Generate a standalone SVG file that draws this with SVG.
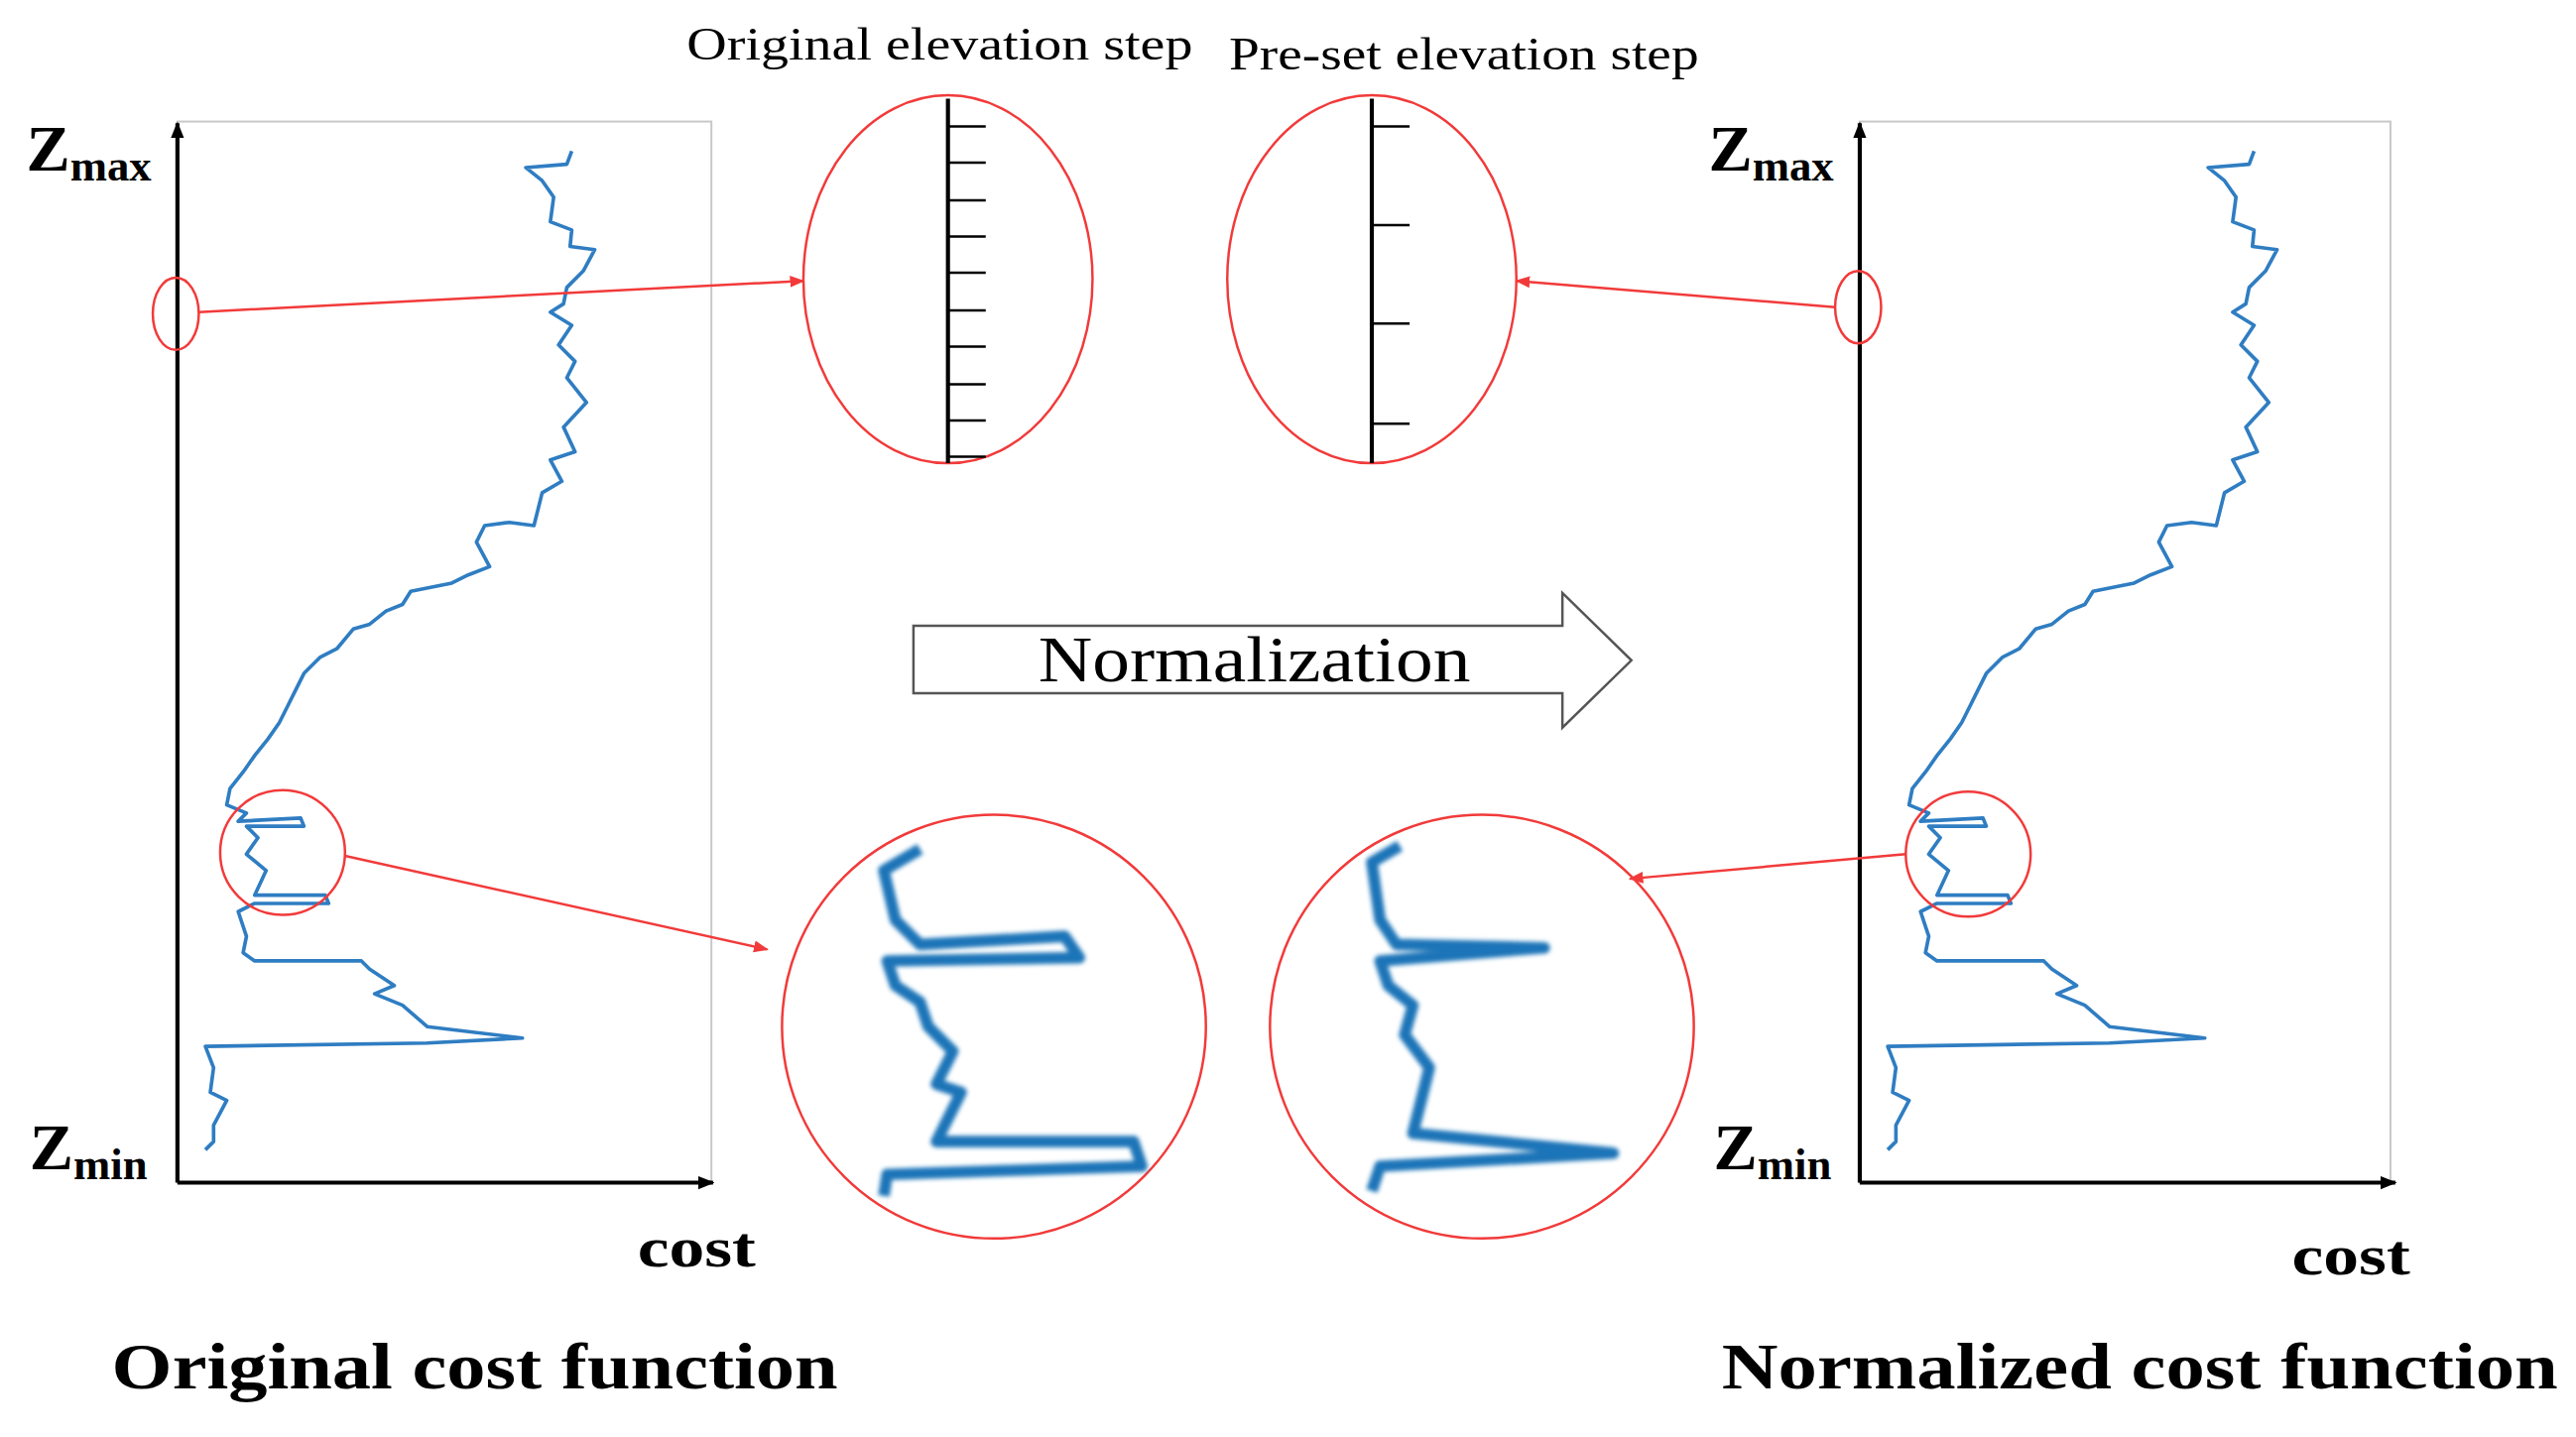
<svg xmlns="http://www.w3.org/2000/svg" width="2597" height="1449" viewBox="0 0 2597 1449">
<style>
.ax{stroke:#000;stroke-width:2.5;fill:none}
.box{stroke:#c8c8c8;stroke-width:1.2;fill:none}
.red{stroke:#f23a3a;stroke-width:1.5;fill:none}
.curve{stroke:#2f7dc2;stroke-width:2.2;fill:none;stroke-linejoin:round}
.zc{stroke:#1f74b8;stroke-width:7;fill:none;stroke-linejoin:round;filter:url(#blur)}
.tick{stroke:#000;stroke-width:1.5}
.lab{font-family:"Liberation Serif",serif;font-weight:bold;fill:#000}
.sm{font-family:"Liberation Serif",serif;fill:#000;font-size:28px}
</style>
<defs>
<marker id="ah" viewBox="0 0 10 10" refX="9" refY="5" markerWidth="6" markerHeight="6" orient="auto"><path d="M0,1 L10,5 L0,9 z" fill="#f23a3a"/></marker>
<marker id="bk" viewBox="0 0 10 10" refX="9" refY="5" markerWidth="4" markerHeight="4" orient="auto"><path d="M0,1 L10,5 L0,9 z" fill="#000"/></marker>
<filter id="blur"><feGaussianBlur stdDeviation="1.2"/></filter>
<polyline id="cv" class="curve" points="348,92 345,100 320,102 330,110 337,120 335,135 348,140 347,150 362,152 355,165 345,175 343,185 335,190 348,198 340,210 350,220 345,230 357,245 343,260 350,275 335,280 342,293 330,300 325,320 310,318 295,320 290,330 298,345 285,350 275,355 250,360 245,368 235,372 225,380 215,383 205,395 195,400 185,410 180,420 175,430 170,440 163,450 155,460 148,470 140,480 138,490 150,495 145,500 183,498 185,503 150,503 157,510 150,520 162,530 155,545 198,545 200,550 155,550 145,555 150,570 148,580 155,585 220,585 225,590 240,600 228,605 245,612 260,625 318,632 260,635 125,637 130,650 128,665 138,670 130,685 130,695 125,700"/>
</defs>
<g transform="scale(1.6563)">
<g id="left-plot">
<rect class="box" x="108" y="74" width="325" height="646"/>
<line class="ax" x1="108" y1="720" x2="108" y2="75" marker-end="url(#bk)"/>
<line class="ax" x1="108" y1="720" x2="434" y2="720" marker-end="url(#bk)"/>
<use href="#cv"/>
<text class="lab" x="16" y="104" font-size="40">Z<tspan font-size="27" dy="6">max</tspan></text>
<text class="lab" x="18" y="712" font-size="40">Z<tspan font-size="27" dy="6">min</tspan></text>
<text class="lab" x="388" y="771" font-size="34" textLength="72" lengthAdjust="spacingAndGlyphs">cost</text>
<text class="lab" x="68" y="845" font-size="40" textLength="442" lengthAdjust="spacingAndGlyphs">Original cost function</text>
<ellipse class="red" cx="107" cy="191" rx="14" ry="22"/>
<circle class="red" cx="172" cy="519" r="38"/>
</g>
<g id="right-plot">
<rect class="box" x="1132" y="74" width="323" height="646"/>
<line class="ax" x1="1132" y1="720" x2="1132" y2="75" marker-end="url(#bk)"/>
<line class="ax" x1="1132" y1="720" x2="1458" y2="720" marker-end="url(#bk)"/>
<use href="#cv" transform="translate(1024,0)"/>
<text class="lab" x="1040" y="104" font-size="40">Z<tspan font-size="27" dy="6">max</tspan></text>
<text class="lab" x="1043" y="712" font-size="40">Z<tspan font-size="27" dy="6">min</tspan></text>
<text class="lab" x="1395" y="776" font-size="34" textLength="72" lengthAdjust="spacingAndGlyphs">cost</text>
<text class="lab" x="1048" y="845" font-size="40" textLength="509" lengthAdjust="spacingAndGlyphs">Normalized cost function</text>
<ellipse class="red" cx="1131" cy="187" rx="14" ry="22"/>
<circle class="red" cx="1198" cy="520" r="38"/>
</g>
<g id="orig-step">
<text class="sm" x="418" y="36" textLength="308" lengthAdjust="spacingAndGlyphs">Original elevation step</text>
<ellipse class="red" cx="577" cy="170" rx="88" ry="112"/>
<line class="ax" x1="577" y1="60" x2="577" y2="282"/>
<path class="tick" d="M577,77h23M577,99h23M577,122h23M577,144h23M577,166h23M577,189h23M577,211h23M577,234h23M577,256h23M577,278h23"/>
</g>
<g id="preset-step">
<text class="sm" x="748" y="42" textLength="286" lengthAdjust="spacingAndGlyphs">Pre-set elevation step</text>
<ellipse class="red" cx="835" cy="170" rx="88" ry="112"/>
<line class="ax" x1="835" y1="60" x2="835" y2="282"/>
<path class="tick" d="M835,77h23M835,137h23M835,197h23M835,258h23"/>
</g>
<g id="normalization">
<polygon points="556,381 951,381 951,361 993,402 951,443 951,422 556,422" fill="#fff" stroke="#555" stroke-width="1.5"/>
<text x="632" y="415" font-family="Liberation Serif,serif" font-size="40" textLength="263" lengthAdjust="spacingAndGlyphs">Normalization</text>
</g>
<g id="zoom-orig">
<circle class="red" cx="605" cy="625" r="129"/>
<polyline class="zc" points="560,517 538,530 545,560 560,575 648,570 657,583 540,585 545,600 560,610 565,625 580,640 570,660 585,665 570,695 690,695 695,710 540,715 538,728"/>
</g>
<g id="zoom-norm">
<circle class="red" cx="902" cy="625" r="129"/>
<polyline class="zc" points="852,515 835,525 840,560 850,575 940,577 840,585 845,600 860,612 855,630 870,650 865,670 860,690 982,702 840,710 835,725"/>
</g>
<g id="connectors">
<line class="red" x1="121" y1="190" x2="489" y2="171" marker-end="url(#ah)"/>
<line class="red" x1="1117" y1="187" x2="923" y2="171" marker-end="url(#ah)"/>
<line class="red" x1="210" y1="521" x2="467" y2="578" marker-end="url(#ah)"/>
<line class="red" x1="1160" y1="520" x2="992" y2="535" marker-end="url(#ah)"/>
</g>
</g>
</svg>
